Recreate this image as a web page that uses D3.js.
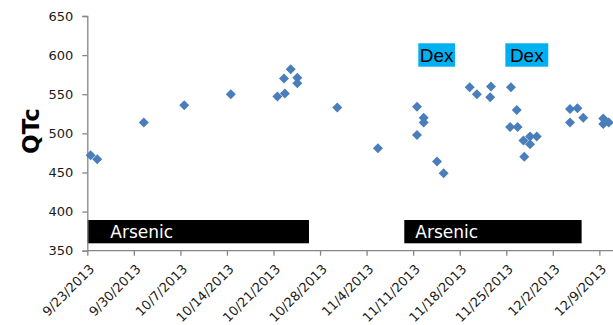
<!DOCTYPE html>
<html>
<head>
<meta charset="utf-8">
<script src="https://cdn.jsdelivr.net/npm/d3@7"></script>
<style>
  html, body { margin: 0; padding: 0; background: #fff; }
  svg { display: block; }
</style>
</head>
<body>
<svg id="chart" width="613" height="325"></svg>
<script>
// ---- data ----
const pointTimes = [
  "2013-09-23 12:00", "2013-09-24 12:00", "2013-10-01 12:00", "2013-10-07 14:00",
  "2013-10-14 14:00", "2013-10-21 14:00", "2013-10-22 17:00", "2013-10-22 14:00",
  "2013-10-23 14:00", "2013-10-24 14:00", "2013-10-24 14:00", "2013-10-30 14:00",
  "2013-11-05 17:00", "2013-11-11 14:00", "2013-11-12 14:00", "2013-11-12 14:00",
  "2013-11-11 14:00", "2013-11-14 14:00", "2013-11-15 14:00", "2013-11-19 12:00",
  "2013-11-20 14:00", "2013-11-22 17:00", "2013-11-22 14:00", "2013-11-25 17:00",
  "2013-11-26 14:00", "2013-11-25 14:00", "2013-11-26 17:00", "2013-11-27 14:00",
  "2013-11-28 14:00", "2013-11-28 14:00", "2013-11-29 14:00", "2013-11-27 17:00",
  "2013-12-04 14:00", "2013-12-05 17:00", "2013-12-04 14:00", "2013-12-06 14:00",
  "2013-12-09 14:00", "2013-12-09 14:00", "2013-12-10 10:00"
];
const qtcValues = [
  472, 467, 514, 536,
  550, 547, 551, 570,
  582, 571, 564, 533,
  481, 534, 520, 514,
  498, 464, 449, 559,
  550, 560, 546, 559,
  530, 508, 508, 491,
  496, 486, 496, 470,
  531, 532, 514, 520,
  519, 512, 514
];
const tickLabels = [
  "9/23/2013", "9/30/2013", "10/7/2013", "10/14/2013", "10/21/2013", "10/28/2013",
  "11/4/2013", "11/11/2013", "11/18/2013", "11/25/2013", "12/2/2013", "12/9/2013"
];
const yTicks = [350, 400, 450, 500, 550, 600, 650];
const arsenicLabels = ["Arsenic", "Arsenic"];
const arsenicStart = ["2013-09-23 00:00", "2013-11-09 16:00"];
const arsenicEnd   = ["2013-10-26 08:00", "2013-12-06 08:00"];
const dexLabels = ["Dex", "Dex"];
const dexStart = ["2013-11-11 18:30", "2013-11-24 20:40"];
const dexEnd   = ["2013-11-17 07:00", "2013-12-01 07:40"];
const yTitle = "QTc";

// ---- setup ----
const parseTime = d3.utcParse("%Y-%m-%d %H:%M");
const parseTick = d3.utcParse("%m/%d/%Y");
const svg = d3.select("#chart");

const x0 = 87.3, pxPerWeek = 46.55;
const x = d3.scaleUtc()
  .domain([parseTick("9/23/2013"), parseTick("12/16/2013")])
  .range([x0, x0 + pxPerWeek * 12]);
const y = d3.scaleLinear().domain([350, 650]).range([250.7, 16]);

const axisColor = "#868686";
const tickFont = "DejaVu Sans, sans-serif";

// Arsenic bars
const arsenic = arsenicLabels.map((l, i) => ({label: l, s: parseTime(arsenicStart[i]), e: parseTime(arsenicEnd[i])}));
const barTop = 220, barH = 23.3;
svg.append("g").selectAll("rect").data(arsenic).join("rect")
  .attr("x", d => x(d.s)).attr("width", d => x(d.e) - x(d.s))
  .attr("y", barTop).attr("height", barH)
  .attr("fill", "#000");
svg.append("g").selectAll("text").data(arsenic).join("text")
  .attr("x", d => x(d.s) + (d.s.getUTCMonth() === 8 ? 23 : 11))
  .attr("y", barTop + 17.5)
  .attr("fill", "#fff")
  .attr("font-family", tickFont)
  .attr("font-size", 17)
  .text(d => d.label);

// Axes
const yAxis = svg.append("g").attr("transform", `translate(${x0},0)`)
  .call(d3.axisLeft(y).tickValues(yTicks).tickSize(5).tickPadding(9));
const xAxis = svg.append("g").attr("transform", `translate(0,${y(350)})`)
  .call(d3.axisBottom(x).tickValues(tickLabels.map(parseTick))
        .tickFormat((d, i) => tickLabels[i]).tickSize(5));
[yAxis, xAxis].forEach(g => {
  g.select(".domain").attr("stroke", axisColor).attr("stroke-width", 1.3);
  g.selectAll(".tick line").attr("stroke", axisColor).attr("stroke-width", 1.3);
  g.selectAll("text").attr("fill", "#1a1a1a").attr("font-family", tickFont).attr("font-size", 13);
});
xAxis.select(".domain").attr("d", `M${x0},0H640`);
xAxis.selectAll(".tick text")
  .attr("x", 0).attr("y", 0).attr("dy", "0.35em")
  .attr("text-anchor", "end")
  .attr("transform", "translate(4,16) rotate(-45)");

// Y title
svg.append("text")
  .attr("transform", "translate(39,131) rotate(-90)")
  .attr("text-anchor", "middle")
  .attr("font-family", tickFont)
  .attr("font-weight", "bold")
  .attr("font-size", 23)
  .attr("fill", "#000")
  .text(yTitle);

// Dex boxes
const dex = dexLabels.map((l, i) => ({label: l, s: parseTime(dexStart[i]), e: parseTime(dexEnd[i])}));
const dexTop = 43.3, dexH = 23.4;
svg.append("g").selectAll("rect").data(dex).join("rect")
  .attr("x", d => x(d.s)).attr("width", d => x(d.e) - x(d.s))
  .attr("y", dexTop).attr("height", dexH)
  .attr("fill", "#00B0F0");
svg.append("g").selectAll("text").data(dex).join("text")
  .attr("x", d => (x(d.s) + x(d.e)) / 2)
  .attr("y", dexTop + 18.5)
  .attr("text-anchor", "middle")
  .attr("font-family", "Liberation Sans, Arial, sans-serif")
  .attr("font-size", 19)
  .attr("fill", "#000")
  .text(d => d.label);

// Points
const pts = pointTimes.map((t, i) => ({t: parseTime(t), v: qtcValues[i]}));
const diamond = "M0,-5L5,0L0,5L-5,0Z";
svg.append("g").selectAll("path").data(pts).join("path")
  .attr("d", diamond)
  .attr("transform", d => `translate(${x(d.t)},${y(d.v)})`)
  .attr("fill", "#4A7EBB");
</script>
</body>
</html>
